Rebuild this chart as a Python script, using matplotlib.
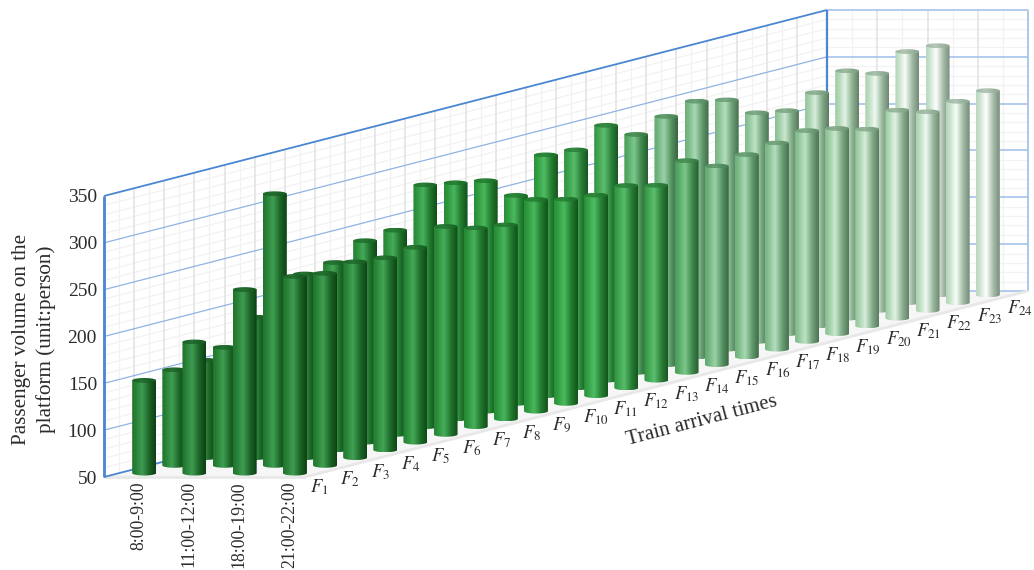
import numpy as np
import matplotlib
matplotlib.use("Agg")
import matplotlib.pyplot as plt
from matplotlib.path import Path
from matplotlib.colors import to_rgb

plt.rcParams["font.family"] = "Liberation Serif"
plt.rcParams["mathtext.fontset"] = "stix"

periods = ["8:00-9:00", "11:00-12:00", "18:00-19:00", "21:00-22:00"]
flights = [f"$F_{{{i}}}$" for i in range(1, 25)]
value_ticks = [50, 100, 150, 200, 250, 300, 350]

volume_morning = [149, 152, 154]
volume_midday = [190, 176, 200]
volume_evening = [246, 340, 246, 250, 265, 268, 308, 302, 296, 272, 307, 304,
                  322, 304, 315, 323, 316, 294, 288, 299, 314, 303, 318, 316]
volume_night = [260, 255, 259, 255, 258, 272, 262, 257, 276, 268, 264, 266,
                258, 276, 262, 266, 270, 275, 269, 260, 272, 262, 265, 268]
rows = [volume_morning, volume_midday, volume_evening, volume_night]

# Body colour of each series at its brightest stripe, from front to back
series_colors = ["#409c52", "#409e52", "#42a155", "#44a557", "#45a958", "#47ad5a",
                 "#48b15c", "#49b55d", "#4ab85e", "#4cba60", "#50bc64", "#58bd6b",
                 "#5dbf70", "#7cc78c", "#9bd2a8", "#a9d9b4", "#b5debe", "#bfe3c6",
                 "#cbe8d0", "#d6edda", "#e2f3e4", "#eff9f0", "#f8fdf8", "#ffffff"]

# Oblique projection: categories run flat, series recede up and to the right
LEFT, BOTTOM = 104.0, 477.0
CAT_STEP = 50.25
DEPTH_DX, DEPTH_DY = 30.125, -7.75
UNIT = 0.9367
VMIN, VMAX = 50, 350
N_CAT, N_SER = 4, 24
BAR_W = 24.0
CAP_H = 2.4


def project(c, s, v):
    x = LEFT + CAT_STEP * c + DEPTH_DX * s
    y = BOTTOM + DEPTH_DY * s - (v - VMIN) * UNIT
    return x, y


fig = plt.figure(figsize=(10.34, 5.7), dpi=100)
ax = fig.add_axes([0, 0, 1, 1])
ax.set_xlim(0, 1034)
ax.set_ylim(570, 0)
ax.axis("off")

MAJOR_BLUE = "#8fb3e3"
STRONG_BLUE = "#4a86d1"
GRID_MAJOR = "#e2e2e2"
GRID_MINOR = "#f2f2f2"
TEXT = "#2b2b2b"


def seg(a, b, color, lw, z=1):
    ax.plot([a[0], b[0]], [a[1], b[1]], color=color, lw=lw, zorder=z,
            solid_capstyle="butt")


# Floor
floor = np.array([project(0, 0, VMIN), project(N_CAT, 0, VMIN),
                  project(N_CAT, N_SER, VMIN), project(0, N_SER, VMIN)])
ax.fill(floor[:, 0], floor[:, 1], color="#f6f6f6", lw=0, zorder=0.5)

# Side wall (category 0 plane): gridlines
for k in np.arange(0, N_SER + 0.01, 0.5):
    major = float(k).is_integer()
    seg(project(0, k, VMIN), project(0, k, VMAX),
        GRID_MAJOR if major else GRID_MINOR, 1.1 if major else 0.9, 0.8 if major else 0.7)
for v in range(VMIN, VMAX + 1, 10):
    if v % 50:
        seg(project(0, 0, v), project(0, N_SER, v), GRID_MINOR, 0.9, 0.7)

# Back wall (last series plane): gridlines
for k in np.arange(0, N_CAT + 0.01, 0.5):
    major = float(k).is_integer()
    seg(project(k, N_SER, VMIN), project(k, N_SER, VMAX),
        GRID_MAJOR if major else GRID_MINOR, 1.1 if major else 0.9, 0.8 if major else 0.7)
for v in range(VMIN, VMAX + 1, 10):
    if v % 50:
        seg(project(0, N_SER, v), project(N_CAT, N_SER, v), GRID_MINOR, 0.9, 0.7)

# Major value lines
for v in value_ticks[1:-1]:
    seg(project(0, 0, v), project(0, N_SER, v), MAJOR_BLUE, 0.9)
    seg(project(0, N_SER, v), project(N_CAT, N_SER, v), "#a6c2ea", 1.2)

# Wall outlines
seg(project(0, 0, VMIN), project(0, 0, VMAX), STRONG_BLUE, 2.0, 1.2)
seg(project(0, 0, VMAX), project(0, N_SER, VMAX), STRONG_BLUE, 1.3, 1.2)
seg(project(0, 0, VMIN), project(0, N_SER, VMIN), STRONG_BLUE, 1.3, 1.2)
seg(project(0, N_SER, VMIN), project(0, N_SER, VMAX), STRONG_BLUE, 1.6, 1.2)
seg(project(0, N_SER, VMAX), project(N_CAT, N_SER, VMAX), "#a6c2ea", 1.2)
seg(project(N_CAT, N_SER, VMAX), project(N_CAT, N_SER, VMIN), "#a6c2ea", 1.2)
seg(project(0, N_SER, VMIN), project(N_CAT, N_SER, VMIN), "#a6c2ea", 1.2)

# Pale front rim of the floor
seg(project(0, 0, VMIN), project(N_CAT, 0, VMIN), "#e8e8e8", 2.0, 1.1)
seg(project(N_CAT, 0, VMIN), project(N_CAT, N_SER, VMIN), "#e8e8e8", 2.0, 1.1)

SHADE_TINT = np.array([0.86, 0.98, 0.88])


def stripe(hex_color):
    """Horizontal shading of a cylinder from its body colour."""
    col = np.array(to_rgb(hex_color))
    stops = [0.0, 0.12, 0.42, 0.72, 1.0]
    tones = [col ** 1.25 * 0.86 * SHADE_TINT,
             col ** 1.2 * 0.90 * SHADE_TINT,
             col,
             col ** 1.3 * 0.76 * SHADE_TINT,
             col ** 1.6 * 0.56 * SHADE_TINT]
    t = np.linspace(0, 1, 48)
    rgb = np.stack([np.interp(t, stops, [tone[i] for tone in tones]) for i in range(3)], axis=1)
    return np.clip(rgb, 0, 1)[np.newaxis, :, :]


def cap_stripe(hex_color):
    """Flatter, darker shading for the top face."""
    col = np.array(to_rgb(hex_color))
    flat = col ** 1.3 * 0.76 * SHADE_TINT
    return np.clip(0.7 * flat + 0.3 * stripe(hex_color) * 0.85, 0, 1)


def draw_cylinder(c, s, value, z):
    cx, y_base = project(c + 0.5, s + 0.5, VMIN)
    _, y_top = project(c + 0.5, s + 0.5, value)
    r = BAR_W / 2
    theta = np.linspace(np.pi, 0, 40)
    arc_x = cx + r * np.cos(theta)
    body = np.vstack([
        np.column_stack([arc_x[[0, -1]], [y_top, y_top]]),
        np.column_stack([arc_x[::-1], y_base + CAP_H * np.sin(theta[::-1])]),
    ])
    body_path = Path(np.vstack([body, body[0]]), closed=True)
    im = ax.imshow(stripe(series_colors[s]),
                   extent=(cx - r, cx + r, y_base + CAP_H, y_top - CAP_H),
                   aspect="auto", interpolation="bilinear", zorder=z)
    im.set_clip_path(body_path, transform=ax.transData)

    # Elliptical cap closing the top of the cylinder
    circle = np.linspace(0, 2 * np.pi, 60)
    cap = np.column_stack([cx + r * np.cos(circle), y_top + CAP_H * np.sin(circle)])
    cap_path = Path(np.vstack([cap, cap[0]]), closed=True)
    cap_im = ax.imshow(cap_stripe(series_colors[s]),
                       extent=(cx - r, cx + r, y_top + CAP_H, y_top - CAP_H),
                       aspect="auto", interpolation="bilinear", zorder=z + 0.001)
    cap_im.set_clip_path(cap_path, transform=ax.transData)


# Painted from the back of the scene to the front
for s in range(N_SER - 1, -1, -1):
    for c, row in enumerate(rows):
        if s < len(row):
            draw_cylinder(c, s, row[s], 10 + (N_SER - s) * 0.1 + c * 0.01)

ax.set_xlim(0, 1034)
ax.set_ylim(570, 0)

# Value labels
for v in value_ticks:
    x, y = project(0, 0, v)
    ax.text(x - 7, y + 2, str(v), ha="right", va="center", fontsize=14, color=TEXT)

# Period labels below the front edge
for c, name in enumerate(periods):
    x, y = project(c + 0.5, 0.5, VMIN)
    ax.text(x - 5.5, y + 8, name, rotation=90, ha="center", va="top",
            fontsize=12.8, color=TEXT)

# Flight labels along the floor's right edge
LABEL_STEP = 30.3 / DEPTH_DX
for s, name in enumerate(flights):
    x, y = project(N_CAT, 0.2 + s * LABEL_STEP, VMIN)
    ax.text(x - 1, y + 17, name, ha="left", va="baseline", fontsize=13.4, color=TEXT)

ax.text(702, 421, "Train arrival times", rotation=14.7, rotation_mode="anchor",
        ha="center", va="center", fontsize=15, color=TEXT)
ax.text(34, 339, "Passenger volume on the\nplatform (unit:person)", rotation=90,
        ha="center", va="center", fontsize=15.2, linespacing=1.3, color=TEXT)

fig.savefig("out.png", dpi=100)
